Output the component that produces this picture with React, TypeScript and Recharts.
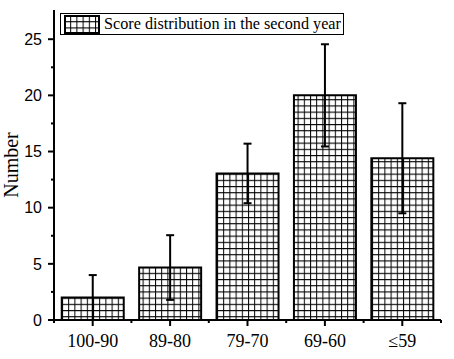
import React from 'react';
import { BarChart, Bar, XAxis, YAxis, ErrorBar, Legend } from 'recharts';

const categories = ['100-90', '89-80', '79-70', '69-60', '≤59'];
const means = [2.0, 4.67, 13.05, 20.0, 14.4];
const errors = [2.0, 2.88, 2.65, 4.55, 4.9];
const yTicks = [0, 2.5, 5, 7.5, 10, 12.5, 15, 17.5, 20, 22.5, 25];
const seriesName = 'Score distribution in the second year';

const data = categories.map((c, i) => ({ cat: c, value: means[i], err: errors[i] }));

const W = 454;
const H = 359;
const M = { top: 10, right: 13, left: 0, bottom: 0 };
const Y_W = 54;
const X_H = 39;
const BAND = (W - M.left - M.right - Y_W) / categories.length;

const YTick = (props: any) => {
  const { x, y, payload } = props;
  const major = payload.value % 5 === 0;
  return (
    <g>
      <line x1={x} x2={x - (major ? 6 : 3)} y1={y} y2={y} stroke="#000" strokeWidth={2} />
      {major && (
        <text x={x - 12} y={y} dy="0.36em" textAnchor="end" fontFamily="Liberation Sans" fontSize={16} fill="#000">
          {payload.value}
        </text>
      )}
    </g>
  );
};

const XTick = (props: any) => {
  const { x, y, payload, index } = props;
  return (
    <g>
      <line x1={x} x2={x} y1={y} y2={y + 6} stroke="#000" strokeWidth={2} />
      <line x1={x + BAND / 2} x2={x + BAND / 2} y1={y} y2={y + 3} stroke="#000" strokeWidth={2} />
      {index === 0 && <line x1={x - BAND / 2} x2={x - BAND / 2} y1={y} y2={y + 3} stroke="#000" strokeWidth={2} />}
      <text x={x} y={y + 14} dy="0.71em" textAnchor="middle" fontFamily="Liberation Serif" fontSize={18} fill="#000">
        {payload.value}
      </text>
    </g>
  );
};

const LegendContent = () => (
  <div style={{ display: 'flex', alignItems: 'center', border: '1px solid #000', height: 20, padding: '0 2px 0 3px', background: '#fff', whiteSpace: 'nowrap' }}>
    <svg width={36} height={19} style={{ display: 'block' }}>
      <rect x={1} y={1} width={34} height={17} fill="url(#gridPat)" stroke="#000" strokeWidth={2} />
    </svg>
    <span style={{ fontFamily: 'Liberation Serif', fontSize: 16.2, color: '#000', marginLeft: 4, lineHeight: '20px' }}>{seriesName}</span>
  </div>
);

const YLabel = (props: any) => {
  const vb = props.viewBox || {};
  const cx = (vb.x ?? 0) + 18;
  const cy = (vb.y ?? 0) + (vb.height ?? 0) / 2;
  return (
    <text x={cx} y={cy} textAnchor="middle" transform={`rotate(-90, ${cx}, ${cy})`} fontFamily="Liberation Serif" fontSize={20} fill="#000">
      Number
    </text>
  );
};

export default function App() {
  return (
    <div style={{ position: 'absolute', left: 0, top: 0, width: W, height: H, background: '#fff' }}>
      <svg width={0} height={0} style={{ position: 'absolute' }}>
        <defs>
          <pattern id="gridPat" patternUnits="userSpaceOnUse" width={6.2} height={6.2}>
            <rect x={0} y={0} width={6.2} height={6.2} fill="#fff" />
            <path d="M0 0.5 H6.2 M0.5 0 V6.2" stroke="#000" strokeWidth={1} />
          </pattern>
        </defs>
      </svg>
      <BarChart width={W} height={H} data={data} margin={M} barCategoryGap="10%">
        <XAxis
          dataKey="cat"
          height={X_H}
          axisLine={{ stroke: '#000', strokeWidth: 2 }}
          tickLine={false}
          tickSize={0}
          tickMargin={0}
          tick={<XTick />}
          interval={0}
        />
        <YAxis
          width={Y_W}
          domain={[0, 27.6]}
          ticks={yTicks}
          interval={0}
          axisLine={{ stroke: '#000', strokeWidth: 2 }}
          tickLine={false}
          tickSize={0}
          tickMargin={0}
          tick={<YTick />}
          allowDataOverflow
          label={<YLabel />}
        />
        <Legend
          layout="horizontal"
          verticalAlign="middle"
          align="center"
          content={<LegendContent />}
          wrapperStyle={{ left: 60, top: 13, width: 'auto', height: 'auto' }}
        />
        <Bar dataKey="value" name={seriesName} fill="url(#gridPat)" stroke="#000" strokeWidth={2} isAnimationActive={false}>
          <ErrorBar dataKey="err" width={4} stroke="#000" strokeWidth={2} direction="y" />
        </Bar>
      </BarChart>
    </div>
  );
}
